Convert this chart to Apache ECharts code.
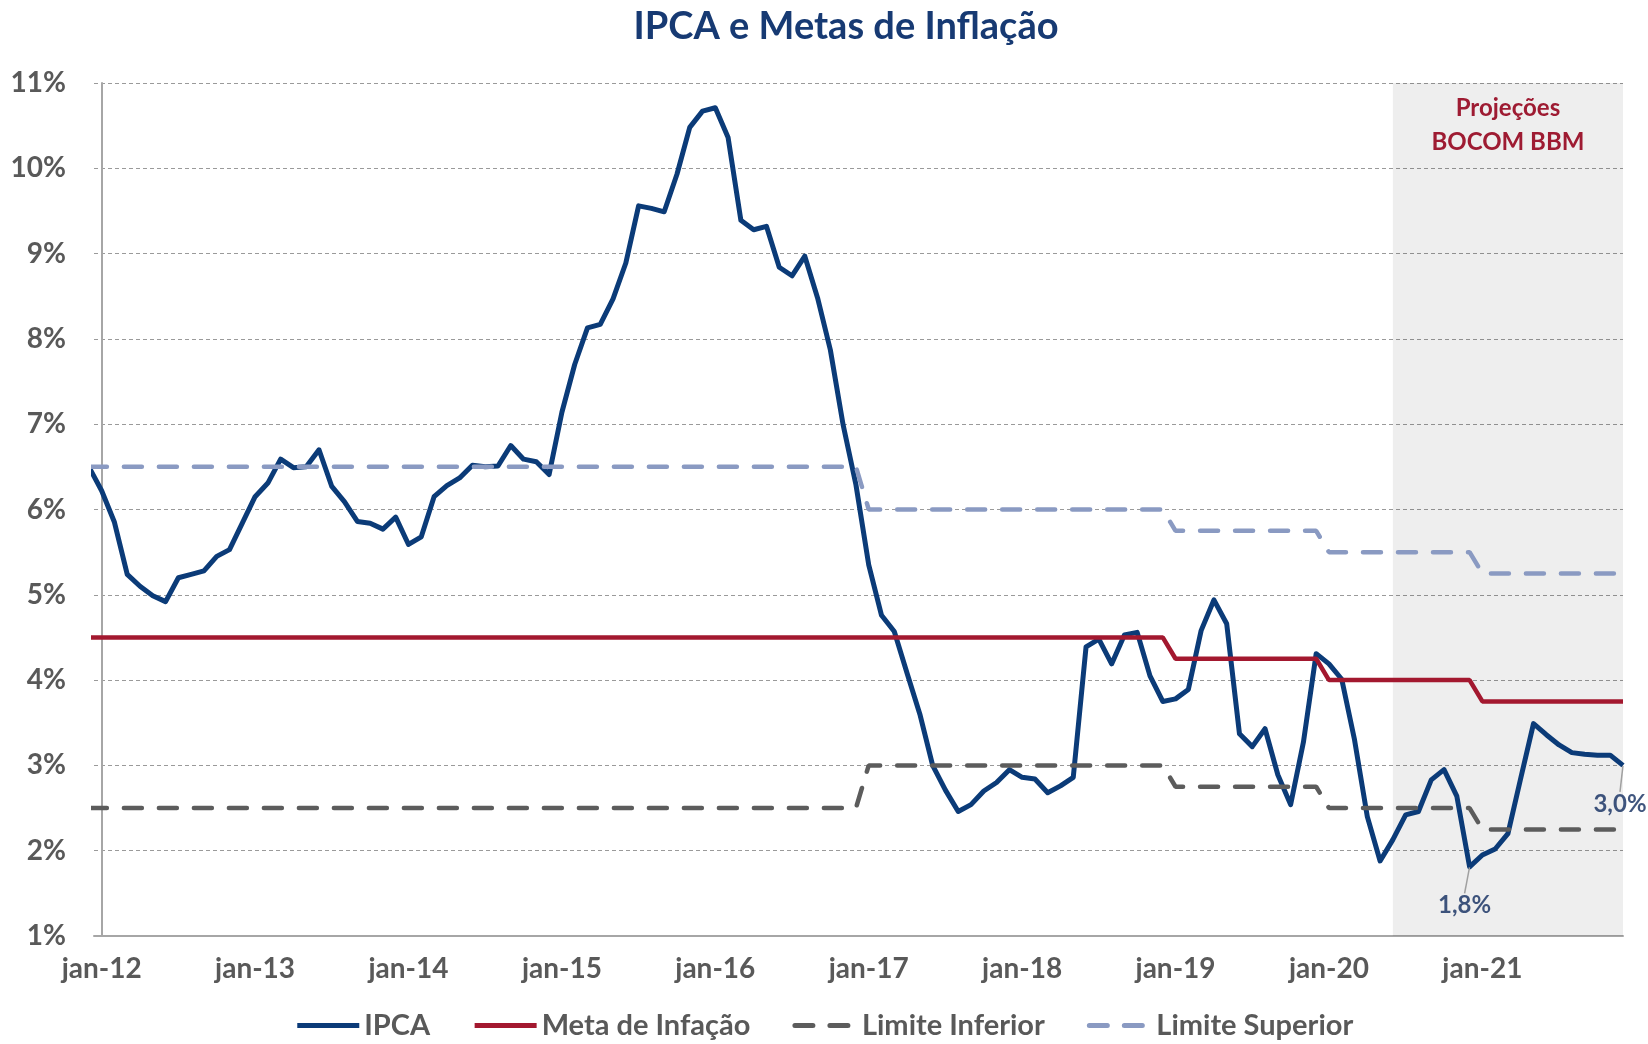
<!DOCTYPE html>
<html>
<head>
<meta charset="utf-8">
<title>IPCA e Metas de Inflação</title>
<script src="https://cdn.jsdelivr.net/npm/echarts@6/dist/echarts.min.js"></script>
<style>
  html, body { margin: 0; padding: 0; background: #fff; }
  #chart { width: 1648px; height: 1044px; }
</style>
</head>
<body>
<div id="chart"></div>
<script>
// IPCA acumulado 12m, mensal de dez-11 a dez-21 (indice -1 = dez-11)
const ipca = [
  6.50,
  6.22, 5.85, 5.24, 5.10, 4.99, 4.92, 5.20, 5.24, 5.28, 5.45, 5.53, 5.84,
  6.15, 6.31, 6.59, 6.49, 6.50, 6.70, 6.27, 6.09, 5.86, 5.84, 5.77, 5.91,
  5.59, 5.68, 6.15, 6.28, 6.37, 6.52, 6.50, 6.51, 6.75, 6.59, 6.56, 6.41,
  7.14, 7.70, 8.13, 8.17, 8.47, 8.89, 9.56, 9.53, 9.49, 9.93, 10.48, 10.67,
  10.71, 10.36, 9.39, 9.28, 9.32, 8.84, 8.74, 8.97, 8.48, 7.87, 6.99, 6.29,
  5.35, 4.76, 4.57, 4.08, 3.60, 3.00, 2.71, 2.46, 2.54, 2.70, 2.80, 2.95,
  2.86, 2.84, 2.68, 2.76, 2.86, 4.39, 4.48, 4.19, 4.53, 4.56, 4.05, 3.75,
  3.78, 3.89, 4.58, 4.94, 4.66, 3.37, 3.22, 3.43, 2.89, 2.54, 3.27, 4.31,
  4.19, 4.01, 3.30, 2.40, 1.88, 2.13, 2.42, 2.46, 2.83, 2.95, 2.64, 1.81,
  1.95, 2.02, 2.20, 2.85, 3.49, 3.36, 3.24, 3.15, 3.13, 3.12, 3.12, 3.00
];
const firstIdx = -1;

// metas anuais (2011..2021)
const anos = [2011, 2012, 2013, 2014, 2015, 2016, 2017, 2018, 2019, 2020, 2021];
const metaAnual = [4.5, 4.5, 4.5, 4.5, 4.5, 4.5, 4.5, 4.5, 4.25, 4.0, 3.75];
const limInfAnual = [2.5, 2.5, 2.5, 2.5, 2.5, 2.5, 3.0, 3.0, 2.75, 2.5, 2.25];
const limSupAnual = [6.5, 6.5, 6.5, 6.5, 6.5, 6.5, 6.0, 6.0, 5.75, 5.5, 5.25];

const tickIdx = [0, 12, 24, 36, 48, 60, 72, 84, 96, 108];
const tickLabels = ['jan-12', 'jan-13', 'jan-14', 'jan-15', 'jan-16', 'jan-17', 'jan-18', 'jan-19', 'jan-20', 'jan-21'];

const projInicio = 101;   // jun-20
const projFim = 119;      // dez-21
const destaques = [107, 119];
const destaqueTxt = ['1,8%', '3,0%'];

const FONT = 'Lato, "Noto Sans", sans-serif';
const GRAY = '#595959';

const ipcaData = ipca.map((v, k) => [firstIdx + k, v]);
const anual = (arr) => ipca.map((_, k) => {
  const i = firstIdx + k;
  const ano = 2012 + Math.floor(i / 12);
  return [i, arr[anos.indexOf(ano)]];
});

const chart = echarts.init(document.getElementById('chart'));

const option = {
  backgroundColor: '#fff',
  animation: false,
  textStyle: { fontFamily: FONT },
  title: {
    text: 'IPCA e Metas de Inflação',
    left: 841,
    textAlign: 'center',
    top: 3,
    textStyle: { fontFamily: FONT, fontSize: 38, fontWeight: 'bold', color: '#173a73' }
  },
  legend: {
    bottom: -1,
    left: 'center',
    itemWidth: 62,
    itemHeight: 14,
    itemGap: 42,
    itemStyle: { opacity: 0 },
    lineStyle: { width: 5 },
    data: ['IPCA', 'Meta de Infação', 'Limite Inferior', 'Limite Superior'],
    textStyle: { fontFamily: FONT, fontSize: 29, fontWeight: 'bold', color: GRAY }
  },
  grid: { left: 94, right: 25, top: 83, bottom: 108 },
  xAxis: {
    type: 'value',
    min: -0.6,
    max: 119,
    splitLine: { show: false },
    axisTick: { show: false },
    axisLine: { lineStyle: { color: '#a6a6a6', width: 2 } },
    axisLabel: {
      customValues: tickIdx,
      formatter: (v) => tickLabels[tickIdx.indexOf(v)],
      margin: 19,
      fontFamily: FONT, fontSize: 28, fontWeight: 'bold', color: GRAY
    }
  },
  yAxis: {
    type: 'value',
    min: 1,
    max: 11,
    interval: 1,
    axisLine: { show: true, lineStyle: { color: '#a6a6a6', width: 2 } },
    axisTick: { show: false },
    splitLine: { lineStyle: { color: '#9a9a9a', type: [4, 3], width: 1.2 } },
    axisLabel: {
      formatter: '{value}%',
      margin: 28,
      fontFamily: FONT, fontSize: 28, fontWeight: 'bold', color: GRAY
    }
  },
  series: [
    {
      name: 'proj',
      type: 'line',
      data: [],
      z: 1,
      silent: true,
      markArea: {
        silent: true,
        itemStyle: { color: 'rgba(0,0,0,0.068)' },
        label: {
          show: true,
          position: 'insideTop',
          distance: 8,
          formatter: 'Projeções\nBOCOM BBM',
          fontFamily: FONT, fontSize: 24, fontWeight: 'bold',
          color: '#9e1b32', lineHeight: 34, align: 'center'
        },
        data: [[{ xAxis: projInicio }, { xAxis: projFim }]]
      }
    },
    {
      name: 'IPCA',
      type: 'line',
      data: ipcaData,
      symbol: 'none',
      z: 3,
      color: '#0b3b78',
      lineStyle: { width: 5, color: '#0b3b78', join: 'round' }
    },
    {
      name: 'Meta de Infação',
      type: 'line',
      data: anual(metaAnual),
      symbol: 'none',
      z: 4,
      color: '#a3182f',
      lineStyle: { width: 4.5, color: '#a3182f' }
    },
    {
      name: 'Limite Inferior',
      type: 'line',
      data: anual(limInfAnual),
      symbol: 'none',
      z: 4,
      color: '#5c5c5c',
      lineStyle: { width: 4.5, color: '#5c5c5c', type: [18, 17], cap: 'round' }
    },
    {
      name: 'Limite Superior',
      type: 'line',
      data: anual(limSupAnual),
      symbol: 'none',
      z: 4,
      color: '#8a9ac2',
      lineStyle: { width: 4.5, color: '#8a9ac2', type: [18, 17], cap: 'round' }
    },
    {
      name: 'destaques',
      type: 'scatter',
      z: 6,
      symbol: 'circle',
      symbolSize: 1,
      itemStyle: { color: 'rgba(0,0,0,0)' },
      data: destaques.map((i) => [i, ipca[i - firstIdx]]),
      label: {
        show: true,
        position: 'bottom',
        distance: 2,
        formatter: (p) => destaqueTxt[p.dataIndex],
        fontFamily: FONT, fontSize: 24, fontWeight: 'bold', color: '#0f2a5e'
      },
      labelLayout: (p) => ({ dx: p.dataIndex === 0 ? -5 : -3, dy: 24 }),
      labelLine: { show: true, lineStyle: { color: '#a0a0a0', width: 1.5 } }
    }
  ]
};

chart.setOption(option);
window.addEventListener('resize', () => chart.resize());
</script>
</body>
</html>
